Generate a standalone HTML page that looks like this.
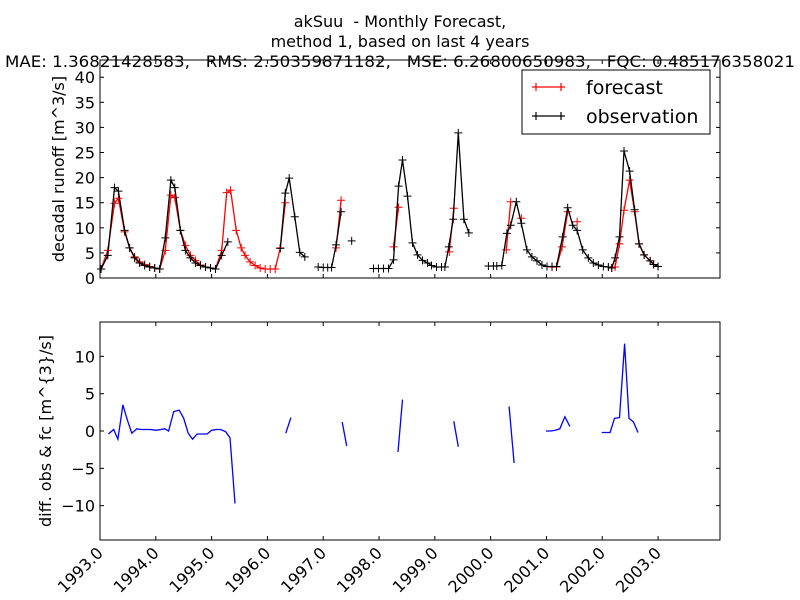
<!DOCTYPE html>
<html><head><meta charset="utf-8"><style>
body{margin:0;background:#fff}
svg{display:block;font-family:"DejaVu Sans","Liberation Sans",sans-serif}
svg text{white-space:pre}
</style></head><body>
<svg id="chart" width="800" height="600" viewBox="0 0 800 600" xml:space="preserve">
<rect width="800" height="600" fill="#fff"/>
<text x="400" y="27" text-anchor="middle" font-size="16">akSuu  - Monthly Forecast,</text>
<text x="400" y="47" text-anchor="middle" font-size="16">method 1, based on last 4 years</text>
<text x="400" y="67" text-anchor="middle" font-size="16" textLength="790" lengthAdjust="spacingAndGlyphs">MAE: 1.36821428583,   RMS: 2.50359871182,   MSE: 6.26800650983,   FQC: 0.485176358021</text>
<g id="top"></g>
<g id="bot"></g>
<text transform="translate(64,169) rotate(-90)" text-anchor="middle" font-size="16">decadal runoff [m^3/s]</text>
<text transform="translate(51,431) rotate(-90)" text-anchor="middle" font-size="16">diff. obs &amp; fc [m^{3}/s]</text>
</svg>
<script>
const xTicks=[1993,1994,1995,1996,1997,1998,1999,2000,2001,2002,2003];
const topYTicks=[0,5,10,15,20,25,30,35,40];
const botYTicks=[-10,-5,0,5,10];
const fcYears=[1993.02,1993.14,1993.26,1993.33,1993.44,1993.53,1993.62,1993.71,1993.80,1993.89,1993.98,1994.07,1994.17,1994.27,1994.34,1994.44,1994.53,1994.62,1994.71,1994.80,1994.89,1994.98,1995.07,1995.18,1995.27,1995.34,1995.44,1995.53,1995.60,1995.69,1995.78,1995.87,1995.96,1996.05,1996.14,1996.23,1996.32,1996.6,1997.23,1997.32,1997.6,1998.26,1998.35,1998.6,1999.26,1999.34,1999.6,2000.28,2000.36,2000.45,2000.55,2000.8,2001.01,2001.10,2001.18,2001.28,2001.38,2001.47,2001.55,2001.8,2002.11,2002.17,2002.23,2002.31,2002.39,2002.49,2002.58,2002.66,2002.75,2002.86,2002.92,2003.00];
const fcValues=[1.8,5.5,14.9,15.9,9.2,6,4.2,3.2,2.7,2.3,2.0,1.8,5.5,16.5,16,9.5,6.5,4.5,3.5,2.6,2.2,2.0,1.8,5.5,17,17.5,9.5,6,4.5,3.2,2.5,2.0,1.8,1.8,1.8,6,15,null,6,15.5,null,6.2,14.1,null,5.2,13.9,null,5.6,15.2,null,11.9,null,2.3,2.2,2.2,6.2,13.2,null,11.2,null,2.2,2.0,2.2,6.8,13.5,19.5,13.2,6.8,4.6,3.4,2.7,2.3];
const obsYears=[1993.02,1993.14,1993.26,1993.33,1993.44,1993.53,1993.62,1993.71,1993.80,1993.89,1993.98,1994.07,1994.17,1994.27,1994.34,1994.44,1994.53,1994.62,1994.71,1994.80,1994.89,1994.98,1995.07,1995.18,1995.29,1995.8,1996.23,1996.32,1996.39,1996.49,1996.58,1996.67,1996.8,1996.91,1997.00,1997.08,1997.15,1997.23,1997.32,1997.42,1997.51,1997.7,1997.90,1997.99,1998.08,1998.17,1998.26,1998.35,1998.42,1998.51,1998.60,1998.69,1998.78,1998.87,1998.94,1999.03,1999.12,1999.18,1999.25,1999.33,1999.42,1999.52,1999.61,1999.8,1999.96,2000.05,2000.11,2000.20,2000.29,2000.36,2000.46,2000.55,2000.65,2000.74,2000.83,2000.92,2001.01,2001.10,2001.18,2001.29,2001.38,2001.47,2001.55,2001.65,2001.75,2001.84,2001.93,2002.02,2002.11,2002.17,2002.23,2002.31,2002.39,2002.49,2002.58,2002.66,2002.75,2002.86,2002.92,2003.00];
const obsValues=[1.8,4.5,18,17.3,9.5,6,4,3,2.5,2.2,2.0,1.8,8,19.5,18,9.5,5.5,4,3,2.5,2.2,2.0,1.8,4.5,7.2,null,5.9,16.9,19.9,12.2,5.1,4.2,null,2.2,2.1,2.1,2.1,6.6,13.2,null,7.4,null,1.9,1.9,1.9,1.9,3.6,18.3,23.5,16.3,7.0,4.6,3.5,3.0,2.5,2.2,2.2,2.2,6.2,11.7,28.9,11.7,9,null,2.4,2.4,2.4,2.5,8.9,10.5,15.2,10.9,5.6,4.2,3.4,2.6,2.3,2.3,2.3,8.2,14,10.5,9.5,5.6,4,3,2.6,2.3,2.2,2.0,4,8.2,25.3,21.3,13.6,6.8,4.6,3.4,2.7,2.3];
const diffYears=[1993.15,1993.245,1993.32,1993.41,1993.49,1993.57,1993.66,1993.74,1993.82,1993.91,1994.00,1994.09,1994.16,1994.23,1994.32,1994.42,1994.50,1994.58,1994.66,1994.74,1994.83,1994.92,1995.00,1995.09,1995.16,1995.25,1995.33,1995.42,1995.8,1996.33,1996.42,1996.8,1997.34,1997.42,1997.8,1998.34,1998.42,1998.8,1999.34,1999.42,1999.8,2000.33,2000.42,2000.8,2000.99,2001.08,2001.16,2001.24,2001.33,2001.42,2001.8,2001.99,2002.08,2002.14,2002.22,2002.31,2002.40,2002.48,2002.56,2002.64];
const diffValues=[-0.4,0.2,-1.1,3.5,1.5,-0.3,0.3,0.2,0.2,0.2,0.1,0.2,0.3,0.0,2.6,2.8,1.7,-0.3,-1.1,-0.4,-0.4,-0.4,0.1,0.2,0.2,-0.1,-0.9,-9.7,null,-0.3,1.8,null,1.2,-2.0,null,-2.8,4.2,null,1.3,-2.1,null,3.3,-4.3,null,0,0,0.1,0.3,1.9,0.6,null,-0.2,-0.2,-0.2,1.7,1.8,11.7,1.7,1.2,-0.2];

const NS='http://www.w3.org/2000/svg';
const L=100,R=720,X0=1993,X1=2004.11;
function xs(v){return L+(v-X0)/(X1-X0)*(R-L);}
const T={top:60,bot:278,min:0,max:43.43};
const B={top:322,bot:540,min:-14.6,max:14.6};
function ys(a,v){return a.bot-(v-a.min)/(a.max-a.min)*(a.bot-a.top);}
function mk(tag,attrs,parent){const e=document.createElementNS(NS,tag);for(const k in attrs)e.setAttribute(k,attrs[k]);parent.appendChild(e);return e;}
function pathFor(a,xsArr,vals){let d='',pen=false;for(let i=0;i<xsArr.length;i++){const v=vals[i];if(v===null){pen=false;continue;}d+=(pen?'L':'M')+xs(xsArr[i]).toFixed(1)+' '+ys(a,v).toFixed(1);pen=true;}return d;}
function axes(g,a,yt,labelX,name){
  const box=mk('rect',{x:L,y:a.top,width:R-L,height:a.bot-a.top,fill:'none',stroke:'#000','stroke-width':1},g);
  
  
  xTicks.forEach(t=>{const x=xs(t);
    mk('line',{x1:x,x2:x,y1:a.bot,y2:a.bot-4,stroke:'#000'},g);
    mk('line',{x1:x,x2:x,y1:a.top,y2:a.top+4,stroke:'#000'},g);
    if(labelX){const tx=mk('text',{transform:`translate(${x+4},${a.bot+14}) rotate(-45)`,'text-anchor':'end','font-size':16},g);tx.textContent=t.toFixed(1);
      
      }
  });
  yt.forEach(t=>{const y=ys(a,t);
    mk('line',{x1:L,x2:L+4,y1:y,y2:y,stroke:'#000'},g);
    mk('line',{x1:R,x2:R-4,y1:y,y2:y,stroke:'#000'},g);
    const tx=mk('text',{x:L-5,y:y+6,'text-anchor':'end','font-size':16},g);tx.textContent=(t<0?'\u2212'+(-t):String(t));
    
    
  });
}
function series(g,a,xsArr,vals,color,name,markers){
  const p=mk('path',{d:pathFor(a,xsArr,vals),fill:'none',stroke:color,'stroke-width':1.3},g);
  
  
  if(markers){for(let i=0;i<xsArr.length;i++){if(vals[i]===null)continue;const x=xs(xsArr[i]),y=ys(a,vals[i]);
    const m=mk('path',{d:`M${x-4} ${y}H${x+4}M${x} ${y-4}V${y+4}`,stroke:color,'stroke-width':1},g);
    
    }}
}
const gt=document.getElementById('top'),gb=document.getElementById('bot');
series(gt,T,fcYears,fcValues,'#ff0000','forecast',true);
series(gt,T,obsYears,obsValues,'#000000','observation',true);
axes(gt,T,topYTicks,false,'runoff-plot');
series(gb,B,diffYears,diffValues,'#0000ff','difference',false);
axes(gb,B,botYTicks,true,'difference-plot');
const lg=mk('g',{},gt);


mk('rect',{x:522,y:70,width:188,height:64,fill:'#fff',stroke:'#000'},lg);
[['forecast','#ff0000',87],['observation','#000',116]].forEach(([t,c,y])=>{
  const e=mk('g',{},lg);
  
  
  mk('path',{d:`M532 ${y}H565M536 ${y-4}V${y+4}M561 ${y-4}V${y+4}`,stroke:c,'stroke-width':1.2},e);
  const tx=mk('text',{x:586,y:y+7,'font-size':19},e);tx.textContent=t;
});
</script>
</body></html>
